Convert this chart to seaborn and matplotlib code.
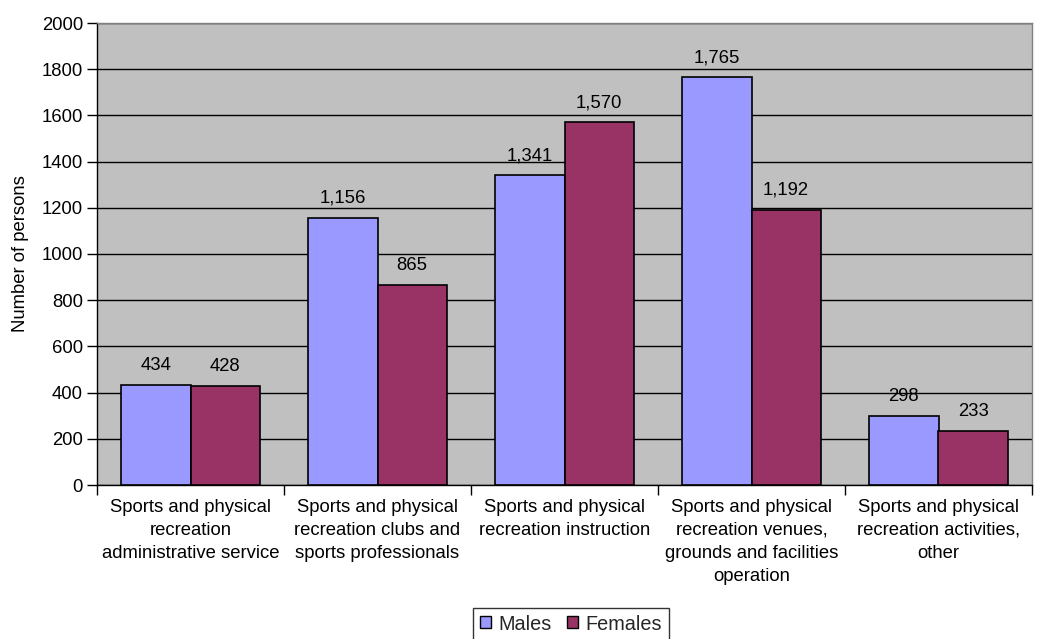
import matplotlib
matplotlib.use("Agg")
import matplotlib.pyplot as plt
import seaborn as sns
import pandas as pd
import numpy as np
from matplotlib.patches import Patch

categories = [
    "Sports and physical\nrecreation\nadministrative service",
    "Sports and physical\nrecreation clubs and\nsports professionals",
    "Sports and physical\nrecreation instruction",
    "Sports and physical\nrecreation venues,\ngrounds and facilities\noperation",
    "Sports and physical\nrecreation activities,\nother",
]
males = [434, 1156, 1341, 1765, 298]
females = [428, 865, 1570, 1192, 233]
series = ["Males", "Females"]
colors = ["#9999FF", "#993366"]

df = pd.DataFrame({
    "category": categories * 2,
    "value": males + females,
    "series": ["Males"] * len(categories) + ["Females"] * len(categories),
})

sns.set_theme(style="white")
plt.rcParams["font.family"] = ["Liberation Sans", "DejaVu Sans"]
fs = 13.3

fig = plt.figure(figsize=(10.43, 6.39), dpi=100)
ax = fig.add_axes([97/1043, 1 - 485/639, (1032-97)/1043, (485-23)/639])
ax.set_facecolor("#C0C0C0")

sns.barplot(data=df, x="category", y="value", hue="series", hue_order=series,
            palette=colors, order=categories, width=0.74, edgecolor="black",
            linewidth=1.2, saturation=1, ax=ax, legend=False, zorder=3)

ax.set_ylim(0, 2000)
ax.set_yticks(np.arange(0, 2001, 200))
ax.yaxis.grid(True, color="black", linewidth=1, zorder=0)
ax.set_axisbelow(True)
ax.set_xlim(-0.5, len(categories) - 0.5)

for container in ax.containers:
    ax.bar_label(container, labels=[f"{int(v.get_height()):,}" for v in container],
                 padding=8, fontsize=fs, color="black")

ax.set_xlabel("")
ax.set_ylabel("Number of persons", fontsize=fs, color="black", labelpad=9)
ax.tick_params(axis="y", labelsize=fs, colors="black", direction="out", length=7, left=True, width=1, pad=3)
ax.tick_params(axis="x", which="major", labelsize=fs, colors="black", length=0, pad=10)
ax.set_xticks(np.arange(-0.5, len(categories)), minor=True)
ax.tick_params(axis="x", which="minor", direction="out", length=7, bottom=True, width=1, color="black")
for lbl in ax.get_xticklabels():
    lbl.set_linespacing(1.47)

for side in ["top", "right"]:
    ax.spines[side].set_visible(True)
    ax.spines[side].set_color("#808080")
    ax.spines[side].set_linewidth(1)
for side in ["left", "bottom"]:
    ax.spines[side].set_color("black")
    ax.spines[side].set_linewidth(1)

handles = [Patch(facecolor=c, edgecolor="black", label=s) for c, s in zip(colors, series)]
leg = fig.legend(handles=handles, loc="center", bbox_to_anchor=(571/1043, 1 - 624/639),
                 ncol=2, frameon=True, fontsize=14.3, handlelength=0.55, handleheight=0.55,
                 handletextpad=0.35, columnspacing=0.8, borderpad=0.35, fancybox=False,
                 borderaxespad=0)
leg.get_frame().set_edgecolor("black")
leg.get_frame().set_linewidth(1)

fig.savefig("out.png", dpi=100, facecolor="white")
